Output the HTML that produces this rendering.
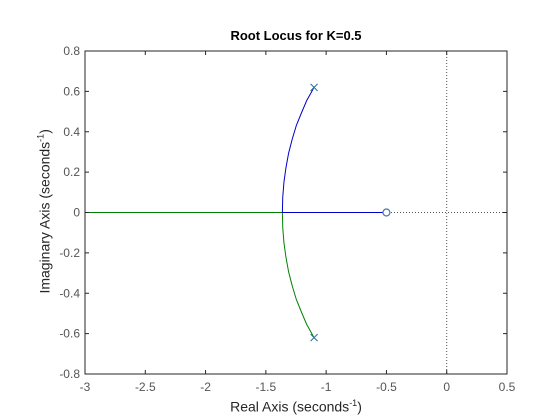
<!DOCTYPE html>
<html><head><meta charset="utf-8"><style>
body{margin:0;background:#fff}
svg{display:block;font-family:"Liberation Sans",sans-serif}
</style></head><body>
<svg id="chart" width="560" height="420">
<rect width="560" height="420" fill="#fff"/>
<g id="plot"></g>
</svg>
<script>
const xTicks=[-3,-2.5,-2,-1.5,-1,-0.5,0,0.5];
const xTickLabels=["-3","-2.5","-2","-1.5","-1","-0.5","0","0.5"];
const yTicks=[-0.8,-0.6,-0.4,-0.2,0,0.2,0.4,0.6,0.8];
const yTickLabels=["-0.8","-0.6","-0.4","-0.2","0","0.2","0.4","0.6","0.8"];
const branch1Re=[-1.0995,-1.129,-1.161,-1.203,-1.247,-1.281,-1.311,-1.333,-1.350,-1.360,-1.363,-0.5];
const branch1Im=[0.6208,0.589,0.5547,0.496,0.4315,0.364,0.295,0.223,0.150,0.075,0,0];
const branch2Re=[-1.0995,-1.129,-1.161,-1.203,-1.247,-1.281,-1.311,-1.333,-1.350,-1.360,-1.363,-3];
const branch2Im=[-0.6208,-0.589,-0.5547,-0.496,-0.4315,-0.364,-0.295,-0.223,-0.150,-0.075,0,0];
const polesRe=[-1.1,-1.1];
const polesIm=[0.62,-0.62];
const zerosRe=[-0.5];
const zerosIm=[0];
const X0=85,X1=507,Y0=374,Y1=51,xmin=-3,xmax=0.5,ymin=-0.8,ymax=0.8;
const sx=v=>X0+(v-xmin)/(xmax-xmin)*(X1-X0);
const sy=v=>Y0-(v-ymin)/(ymax-ymin)*(Y0-Y1);
const NS="http://www.w3.org/2000/svg";
const g=document.getElementById('plot');
function mk(t,a,txt){const e=document.createElementNS(NS,t);for(const k in a)e.setAttribute(k,a[k]);if(txt!==undefined)e.textContent=txt;g.appendChild(e);return e;}
let e;
e=mk('line',{x1:sx(0),y1:Y1,x2:sx(0),y2:Y0,stroke:'#555','stroke-dasharray':'1,2','stroke-width':1});


e=mk('line',{x1:X0,y1:sy(0),x2:X1,y2:sy(0),stroke:'#555','stroke-dasharray':'1,2','stroke-width':1});


function poly(re,im,col,name){const p=re.map((r,i)=>sx(r)+','+sy(im[i])).join(' ');
e=mk('polyline',{points:p,fill:'none',stroke:col,'stroke-width':1});

}
poly(branch2Re,branch2Im,'#008000','locus-branch-2');
poly(branch1Re,branch1Im,'#0000c8','locus-branch-1');
polesRe.forEach((r,i)=>{const cx=sx(r),cy=sy(polesIm[i]);
e=mk('path',{d:`M${cx-3.5},${cy-3.5}L${cx+3.5},${cy+3.5}M${cx-3.5},${cy+3.5}L${cx+3.5},${cy-3.5}`,stroke:'#2a6f9a','stroke-width':1,fill:'none'});

});
zerosRe.forEach((r,i)=>{
e=mk('circle',{cx:sx(r),cy:sy(zerosIm[i]),r:3.5,fill:'#fff',stroke:'#4a74a8','stroke-width':1.2});

});
e=mk('rect',{x:X0,y:Y1,width:X1-X0,height:Y0-Y1,fill:'none',stroke:'#262626','stroke-width':1});


xTicks.forEach((v,i)=>{const x=sx(v);
mk('line',{x1:x,y1:Y0,x2:x,y2:Y0-4,stroke:'#262626'});mk('line',{x1:x,y1:Y1,x2:x,y2:Y1+4,stroke:'#262626'});
e=mk('text',{x:x,y:Y0+17,'text-anchor':'middle','font-size':12,fill:'#555'},xTickLabels[i]);

});
yTicks.forEach((v,i)=>{const y=sy(v);
mk('line',{x1:X0,y1:y,x2:X0+4,y2:y,stroke:'#262626'});mk('line',{x1:X1,y1:y,x2:X1-4,y2:y,stroke:'#262626'});
e=mk('text',{x:X0-5,y:y+4,'text-anchor':'end','font-size':12,fill:'#555'},yTickLabels[i]);

});
</script>
<div style="position:absolute;left:0;top:0;width:560px;height:420px;pointer-events:none;font-family:'Liberation Sans',sans-serif">
<div style="position:absolute;left:0;width:592px;top:28px;text-align:center;font-size:13px;font-weight:bold;color:#000">Root Locus for K=0.5</div>
<div style="position:absolute;left:0;width:592px;top:398px;text-align:center;font-size:14px;color:#262626">Real Axis (seconds<sup style="font-size:9px">-1</sup>)</div>
<div style="position:absolute;left:-106px;top:203px;width:300px;text-align:center;font-size:14px;color:#262626;transform:rotate(-90deg)">Imaginary Axis (seconds<sup style="font-size:9px">-1</sup>)</div>
</div>
</body></html>
